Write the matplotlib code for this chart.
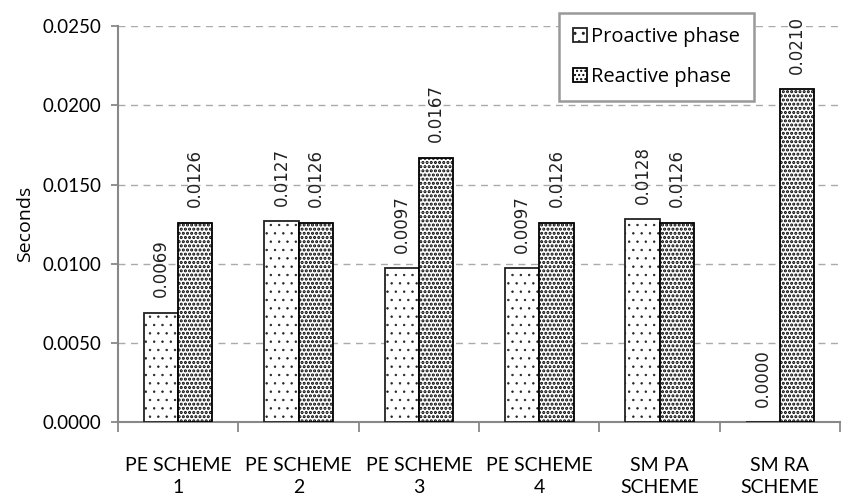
import matplotlib
matplotlib.use('Agg')
import matplotlib.pyplot as plt
import numpy as np

# timing of the two phases for each scheme
categories = ['PE SCHEME\n1', 'PE SCHEME\n2', 'PE SCHEME\n3', 'PE SCHEME\n4',
              'SM PA\nSCHEME', 'SM RA\nSCHEME']
proactive = [0.0069, 0.0127, 0.0097, 0.0097, 0.0128, 0.0000]
reactive = [0.0126, 0.0126, 0.0167, 0.0126, 0.0126, 0.0210]
yticks = [0.0, 0.005, 0.010, 0.015, 0.020, 0.025]

fig = plt.figure(figsize=(8.59, 5.03), dpi=100)
ax = fig.add_axes([0.1374, 0.161, 0.8406, 0.787])

x = np.arange(len(categories))
w = 0.285
b1 = ax.bar(x - w/2, proactive, w, color='white', edgecolor='#222222',
            linewidth=1.3, hatch='..', label='Proactive phase', zorder=3)
b2 = ax.bar(x + w/2, reactive, w, color='white', edgecolor='black',
            linewidth=1.3, hatch='....', label='Reactive phase', zorder=3)
for r in b1:
    r.set_hatch_linewidth(0.5)
for r in b2:
    r.set_hatch_linewidth(1.5)

# rotated value labels above each bar
for bars, vals in ((b1, proactive), (b2, reactive)):
    for r, v in zip(bars, vals):
        ax.annotate('%.4f' % v, (r.get_x() + r.get_width()/2, v),
                    xytext=(0, 11), textcoords='offset points',
                    rotation=90, ha='center', va='bottom',
                    fontsize=12, family='DejaVu Sans', color='#222222')

ax.set_xlim(-0.5, len(categories) - 0.5)
ax.set_ylim(0, 0.025)
ax.set_yticks(yticks)
ax.set_yticklabels(['%.4f' % t for t in yticks], family='Lato', fontsize=13.5)
ax.set_xticks(x)
ax.set_xticklabels(categories, family='Lato', fontsize=14, linespacing=1.35)
ax.set_xticks(np.arange(len(categories) + 1) - 0.5, minor=True)
ax.tick_params(axis='x', which='major', length=0, pad=25)
ax.tick_params(axis='x', which='minor', length=7, width=1.3, color='#888888')
ax.tick_params(axis='y', length=5, width=1.3, color='#888888', pad=7)

ax.grid(axis='y', linestyle=(0, (5, 4)), color='#aaaaaa', linewidth=1.0, zorder=0)
for s in ('top', 'right'):
    ax.spines[s].set_visible(False)
for s in ('left', 'bottom'):
    ax.spines[s].set_color('#888888')
    ax.spines[s].set_linewidth(1.5)

ax.set_ylabel('Seconds', family='Open Sans', fontsize=14, labelpad=6)

leg = fig.legend(handles=[b1, b2], loc='upper left',
                 bbox_to_anchor=(559/859, 1 - 13/503),
                 prop={'family': 'Open Sans', 'size': 14.5},
                 handlelength=0.7, handleheight=0.7, handletextpad=0.2,
                 borderpad=0.7, labelspacing=1.0, fancybox=False,
                 framealpha=1, edgecolor='#999999', borderaxespad=0)
leg.get_frame().set_linewidth(1.8)

fig.savefig('out.png', dpi=100)
